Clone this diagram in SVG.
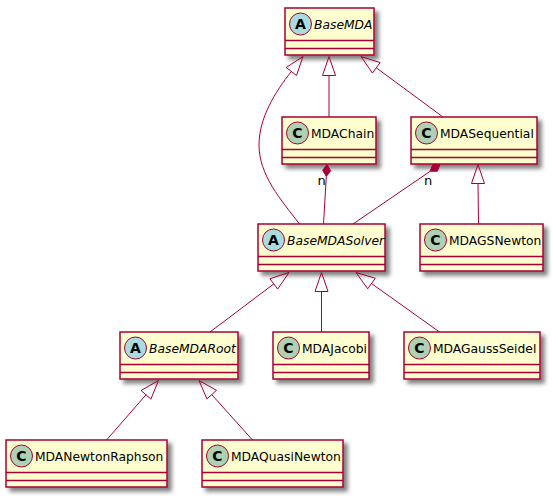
<svg xmlns="http://www.w3.org/2000/svg" width="553" height="498" viewBox="0 0 553 498">
<style>
.bx{fill:#FEFECE;stroke:#A80036;stroke-width:1.5}
.sp{stroke:#A80036;stroke-width:1.5}
.cc{fill:#ADD1B2;stroke:#A80036;stroke-width:1}
.ca{fill:#A9DCDF;stroke:#A80036;stroke-width:1}
.ic{font-family:"DejaVu Sans",sans-serif;font-size:14px;font-weight:bold;text-anchor:middle;fill:#000}
.nm{font-family:"DejaVu Sans",sans-serif;font-size:12.3px;fill:#000}
.ab{font-style:italic}
.lb{font-family:"DejaVu Sans",sans-serif;font-size:13px;fill:#000}
.ed{stroke:#A80036;stroke-width:1;fill:none}
.tr{stroke:#A80036;stroke-width:1;fill:none}
.dm{stroke:#A80036;stroke-width:1;fill:#A80036}
</style>
<defs>
<filter id="sh" x="-20%" y="-20%" width="150%" height="160%">
<feGaussianBlur in="SourceAlpha" stdDeviation="2"/>
<feOffset dx="4" dy="4" result="o"/>
<feComponentTransfer><feFuncA type="linear" slope="0.5"/></feComponentTransfer>
<feMerge><feMergeNode/><feMergeNode in="SourceGraphic"/></feMerge>
</filter>
</defs>

<g id="BaseMDA">
<rect class="bx" x="285" y="8" width="89" height="47" filter="url(#sh)"/>
<ellipse class="ca" cx="300.5" cy="24" rx="11" ry="11"/>
<text class="ic" x="300.5" y="29">A</text>
<text class="nm ab" x="314" y="28.5">BaseMDA</text>
<line class="sp" x1="285" y1="40.5" x2="374" y2="40.5"/>
<line class="sp" x1="285" y1="48.5" x2="374" y2="48.5"/>
</g>

<g id="MDAChain">
<rect class="bx" x="282" y="117" width="94" height="47" filter="url(#sh)"/>
<ellipse class="cc" cx="297.5" cy="133" rx="11" ry="11"/>
<text class="ic" x="297.5" y="138">C</text>
<text class="nm" x="311" y="137.5">MDAChain</text>
<line class="sp" x1="282" y1="149.5" x2="376" y2="149.5"/>
<line class="sp" x1="282" y1="157.5" x2="376" y2="157.5"/>
</g>

<g id="MDASequential">
<rect class="bx" x="411" y="117" width="126" height="47" filter="url(#sh)"/>
<ellipse class="cc" cx="426.5" cy="133" rx="11" ry="11"/>
<text class="ic" x="426.5" y="138">C</text>
<text class="nm" x="440" y="137.5">MDASequential</text>
<line class="sp" x1="411" y1="149.5" x2="537" y2="149.5"/>
<line class="sp" x1="411" y1="157.5" x2="537" y2="157.5"/>
</g>

<g id="BaseMDASolver">
<rect class="bx" x="258" y="224" width="127" height="47" filter="url(#sh)"/>
<ellipse class="ca" cx="273.5" cy="240" rx="11" ry="11"/>
<text class="ic" x="273.5" y="245">A</text>
<text class="nm ab" x="287" y="244.5">BaseMDASolver</text>
<line class="sp" x1="258" y1="256.5" x2="385" y2="256.5"/>
<line class="sp" x1="258" y1="264.5" x2="385" y2="264.5"/>
</g>

<g id="MDAGSNewton">
<rect class="bx" x="420" y="224" width="123" height="47" filter="url(#sh)"/>
<ellipse class="cc" cx="435.5" cy="240" rx="11" ry="11"/>
<text class="ic" x="435.5" y="245">C</text>
<text class="nm" x="449" y="244.5">MDAGSNewton</text>
<line class="sp" x1="420" y1="256.5" x2="543" y2="256.5"/>
<line class="sp" x1="420" y1="264.5" x2="543" y2="264.5"/>
</g>

<g id="BaseMDARoot">
<rect class="bx" x="120" y="332" width="118" height="47" filter="url(#sh)"/>
<ellipse class="ca" cx="135.5" cy="348" rx="11" ry="11"/>
<text class="ic" x="135.5" y="353">A</text>
<text class="nm ab" x="149" y="352.5">BaseMDARoot</text>
<line class="sp" x1="120" y1="364.5" x2="238" y2="364.5"/>
<line class="sp" x1="120" y1="372.5" x2="238" y2="372.5"/>
</g>

<g id="MDAJacobi">
<rect class="bx" x="273" y="332" width="96" height="47" filter="url(#sh)"/>
<ellipse class="cc" cx="288.5" cy="348" rx="11" ry="11"/>
<text class="ic" x="288.5" y="353">C</text>
<text class="nm" x="302" y="352.5">MDAJacobi</text>
<line class="sp" x1="273" y1="364.5" x2="369" y2="364.5"/>
<line class="sp" x1="273" y1="372.5" x2="369" y2="372.5"/>
</g>

<g id="MDAGaussSeidel">
<rect class="bx" x="404" y="332" width="136" height="47" filter="url(#sh)"/>
<ellipse class="cc" cx="419.5" cy="348" rx="11" ry="11"/>
<text class="ic" x="419.5" y="353">C</text>
<text class="nm" x="433" y="352.5">MDAGaussSeidel</text>
<line class="sp" x1="404" y1="364.5" x2="540" y2="364.5"/>
<line class="sp" x1="404" y1="372.5" x2="540" y2="372.5"/>
</g>

<g id="MDANewtonRaphson">
<rect class="bx" x="6" y="440" width="161" height="47" filter="url(#sh)"/>
<ellipse class="cc" cx="21.5" cy="456" rx="11" ry="11"/>
<text class="ic" x="21.5" y="461">C</text>
<text class="nm" x="35" y="460.5">MDANewtonRaphson</text>
<line class="sp" x1="6" y1="472.5" x2="167" y2="472.5"/>
<line class="sp" x1="6" y1="480.5" x2="167" y2="480.5"/>
</g>

<g id="MDAQuasiNewton">
<rect class="bx" x="202" y="440" width="141" height="47" filter="url(#sh)"/>
<ellipse class="cc" cx="217.5" cy="456" rx="11" ry="11"/>
<text class="ic" x="217.5" y="461">C</text>
<text class="nm" x="231" y="460.5">MDAQuasiNewton</text>
<line class="sp" x1="202" y1="472.5" x2="343" y2="472.5"/>
<line class="sp" x1="202" y1="480.5" x2="343" y2="480.5"/>
</g>

<g id="connectors">
<path class="ed" d="M299.5,224 C281,200 259,175 259,145 C259,118 275,92 291.4,71.5"/>
<polygon class="tr" points="303,56.5 296.5,75.5 286.2,67.5"/>
<line class="ed" x1="329" y1="75.5" x2="329" y2="117"/>
<polygon class="tr" points="329,56.5 322.5,75.5 335.5,75.5"/>
<line class="ed" x1="376.3" y1="67.8" x2="443" y2="117"/>
<polygon class="tr" points="361,56.5 372.4,73 380.2,62.6"/>
<line class="ed" x1="478" y1="183.5" x2="478.5" y2="224"/>
<polygon class="tr" points="478,164.5 471.5,183.5 484.5,183.5"/>
<polygon class="dm" points="327,164.5 330.6,170.7 326.3,176.5 322.7,170.3"/>
<line class="ed" x1="326.3" y1="176.5" x2="323.5" y2="224"/>
<text class="lb" x="317.5" y="184.5">n</text>
<polygon class="dm" points="440,164.5 437.3,171.2 430.1,171.3 432.8,164.6"/>
<line class="ed" x1="430.1" y1="171.3" x2="353" y2="224"/>
<text class="lb" x="424" y="184.5">n</text>
<line class="ed" x1="273.8" y1="283.9" x2="210" y2="332"/>
<polygon class="tr" points="289,272.5 269.9,278.7 277.7,289.1"/>
<line class="ed" x1="321.5" y1="291.5" x2="321.5" y2="332"/>
<polygon class="tr" points="321.5,272.5 315,291.5 328,291.5"/>
<line class="ed" x1="371.5" y1="283.5" x2="439.5" y2="332"/>
<polygon class="tr" points="356,272.5 367.7,288.8 375.3,278.2"/>
<line class="ed" x1="146" y1="394.8" x2="106.5" y2="440"/>
<polygon class="tr" points="158.5,380.5 141.1,390.5 150.9,399.1"/>
<line class="ed" x1="211.7" y1="394.6" x2="252.5" y2="440"/>
<polygon class="tr" points="199,380.5 206.9,398.9 216.5,390.3"/>
</g>
</svg>
